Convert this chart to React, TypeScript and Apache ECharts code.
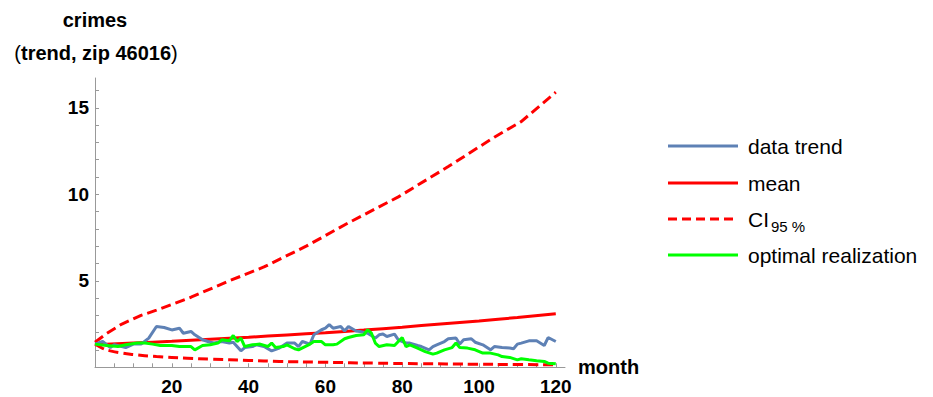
import React, { useEffect, useRef } from "react";
import * as echarts from "echarts";

// [month, value] pairs
const dataTrend: [number, number][] = [
  [0, 1.34], [2, 1.49], [4, 1.14], [5, 1.3], [7, 1.2], [8, 1.14], [10, 1.34], [12, 1.34], [14, 1.69],
  [16, 2.36], [18, 2.3], [20, 2.16], [22, 2.26], [23, 1.97], [25, 2.07], [26, 1.88], [28, 1.59],
  [30, 1.45], [31, 1.4], [33, 1.49], [35, 1.4], [36, 1.45], [38, 0.95], [39, 1.14], [41, 1.2],
  [42, 1.3], [44, 1.2], [46, 0.95], [48, 1.11], [50, 1.4], [52, 1.4], [53, 1.2], [54, 1.49],
  [56, 1.34], [57, 1.88], [59, 2.17], [60, 2.26], [61, 2.46], [62, 2.26], [64, 2.36], [65, 2.1],
  [66, 2.36], [68, 2.1], [69, 2.07], [71, 1.97], [73, 1.69], [74, 1.88], [75, 1.92], [76, 1.78],
  [78, 1.92], [79, 1.59], [81, 1.4], [82, 1.4], [84, 1.26], [85, 1.2], [87, 1.01], [88, 1.2],
  [89, 1.3], [91, 1.49], [92, 1.65], [94, 1.69], [95, 1.34], [96, 1.59], [98, 1.65], [99, 1.45],
  [101, 1.3], [103, 1.01], [104, 1.2], [106, 1.14], [108, 1.11], [109, 1.07], [110, 1.34],
  [111, 1.4], [113, 1.53], [115, 1.53], [117, 1.26], [118, 1.72], [120, 1.49],
];

const meanCurve: [number, number][] = [
  [0, 1.3], [10, 1.4], [20, 1.5], [30, 1.62], [40, 1.74], [50, 1.87], [60, 2.0], [70, 2.15],
  [80, 2.32], [90, 2.5], [100, 2.68], [110, 2.88], [120, 3.1],
];

const ciUpper: [number, number][] = [
  [0, 1.45], [3, 1.95], [7, 2.5], [12, 3.0], [16, 3.3], [25, 4.05], [35, 5.0], [44, 5.8], [55, 7.0],
  [66, 8.35], [79, 9.85], [92, 11.6], [104, 13.3], [111, 14.2], [120, 15.9],
];

const ciLower: [number, number][] = [
  [0, 1.34], [2, 1.1], [4, 0.95], [7, 0.82], [10, 0.74], [16, 0.62], [24, 0.53], [30, 0.47],
  [40, 0.4], [48, 0.34], [60, 0.29], [73, 0.24], [85, 0.21], [98, 0.18], [110, 0.16], [120, 0.15],
];

const optimalRealization: [number, number][] = [
  [0, 1.34], [3, 1.26], [6, 1.2], [8, 1.3], [11, 1.4], [13, 1.4], [15, 1.34], [17, 1.26],
  [20, 1.26], [22, 1.2], [25, 1.2], [26, 1.01], [28, 1.26], [30, 1.3], [32, 1.4], [33, 1.59],
  [35, 1.53], [36, 1.84], [37, 1.49], [38, 1.69], [39, 1.2], [41, 1.3], [43, 1.34], [45, 1.2],
  [46, 1.4], [47, 1.14], [49, 1.2], [50, 1.3], [52, 1.07], [53, 1.01], [56, 1.34], [57, 1.49],
  [59, 1.49], [60, 1.3], [62, 1.3], [63, 1.34], [65, 1.65], [66, 1.72], [68, 1.84], [70, 1.88],
  [71, 2.17], [72, 1.97], [73, 1.4], [74, 1.2], [76, 1.3], [78, 1.26], [80, 1.72], [81, 1.2],
  [82, 1.3], [84, 1.11], [86, 0.91], [88, 0.76], [89, 0.82], [91, 1.01], [93, 1.14], [94, 1.4],
  [95, 1.14], [97, 1.11], [99, 1.01], [101, 0.82], [103, 0.82], [105, 0.72], [106, 0.62],
  [108, 0.57], [110, 0.43], [111, 0.49], [113, 0.43], [115, 0.38], [117, 0.34], [118, 0.24],
  [120, 0.2],
];

const xTickValues = [5, 10, 15, 20, 25, 30, 35, 40, 45, 50, 55, 60, 65, 70, 75, 80, 85, 90, 95, 100, 105, 110, 115, 120];
const xLabelValues = [20, 40, 60, 80, 100, 120];
const yTickValues = [1, 2, 3, 4, 5, 6, 7, 8, 9, 10, 11, 12, 13, 14, 15, 16];
const yLabelValues = [5, 10, 15];

const legendNames = ["data trend", "mean", "CI", "optimal realization"];
const legendSub = ["", "", "95 %", ""];

const BLUE = "#5E81B5";
const RED = "#FF0000";
const GREEN = "#00FF00";
const FONT = "'Liberation Sans', Arial, sans-serif";
const DASH = [10, 5];

export default function App() {
  const ref = useRef<HTMLDivElement>(null);
  useEffect(() => {
    if (!ref.current) return;
    const chart = echarts.init(ref.current, null, { renderer: "svg" });
    const axisLine = { show: true, lineStyle: { color: "#999999", width: 1 } };

    const legendColors = [BLUE, RED, RED, GREEN];
    const legendDash: (number[] | null)[] = [null, null, [9, 5], null];
    const legendRowY = [146, 183, 219, 255];
    const legendGraphics: any[] = [];
    legendNames.forEach((n, i) => {
      legendGraphics.push({
        type: "line",
        shape: { x1: 668, y1: legendRowY[i], x2: 738, y2: legendRowY[i] },
        style: { stroke: legendColors[i], lineWidth: 3, lineDash: legendDash[i] || undefined },
      });
      legendGraphics.push({
        type: "text",
        x: 748,
        y: legendRowY[i],
        style: {
          text: n,
          fontFamily: FONT,
          fontSize: 21,
          fill: "#000",
          textVerticalAlign: "middle",
          verticalAlign: "middle",
        },
      });
      if (legendSub[i]) {
        legendGraphics.push({
          type: "text",
          x: 771,
          y: legendRowY[i] + 7,
          style: {
            text: legendSub[i],
            fontFamily: FONT,
            fontSize: 15,
            fill: "#000",
            textVerticalAlign: "middle",
            verticalAlign: "middle",
          },
        });
      }
    });

    chart.setOption({
      animation: false,
      backgroundColor: "#ffffff",
      textStyle: { fontFamily: FONT },
      grid: { left: 95, top: 78, width: 470, height: 289.3, containLabel: false },
      xAxis: {
        type: "value",
        min: 0,
        max: 122.4,
        name: "month",
        nameLocation: "end",
        nameGap: 13,
        nameTextStyle: { fontFamily: FONT, fontWeight: "bold", fontSize: 20, color: "#000" },
        axisLine,
        splitLine: { show: false },
        axisTick: { show: true, inside: true, length: 4, customValues: xTickValues, lineStyle: { color: "#999999" } },
        axisLabel: {
          customValues: xLabelValues,
          fontFamily: FONT,
          fontWeight: "bold",
          fontSize: 19,
          color: "#000",
          margin: 10,
        },
      },
      yAxis: {
        type: "value",
        min: 0,
        max: 16.72,
        axisLine,
        splitLine: { show: false },
        axisTick: { show: true, inside: true, length: 4, customValues: yTickValues, lineStyle: { color: "#999999" } },
        axisLabel: {
          customValues: yLabelValues,
          fontFamily: FONT,
          fontWeight: "bold",
          fontSize: 19,
          color: "#000",
          margin: 6,
        },
      },
      series: [
        {
          name: "mean",
          type: "line",
          data: meanCurve,
          smooth: true,
          symbol: "none",
          lineStyle: { color: RED, width: 3 },
          itemStyle: { color: RED },
          z: 2,
        },
        {
          name: "CI95 upper",
          type: "line",
          data: ciUpper,
          symbol: "none",
          lineStyle: { color: RED, width: 3, type: DASH },
          itemStyle: { color: RED },
          z: 2,
        },
        {
          name: "CI95 lower",
          type: "line",
          data: ciLower,
          smooth: true,
          symbol: "none",
          lineStyle: { color: RED, width: 3, type: DASH },
          itemStyle: { color: RED },
          z: 2,
        },
        {
          name: "data trend",
          type: "line",
          data: dataTrend,
          symbol: "none",
          lineStyle: { color: BLUE, width: 3 },
          itemStyle: { color: BLUE },
          z: 3,
        },
        {
          name: "optimal realization",
          type: "line",
          data: optimalRealization,
          symbol: "none",
          lineStyle: { color: GREEN, width: 3 },
          itemStyle: { color: GREEN },
          z: 4,
        },
      ],
      graphic: [
        {
          type: "text",
          x: 95,
          y: 20,
          style: {
            text: "crimes",
            fontFamily: FONT,
            fontWeight: "bold",
            fontSize: 20,
            fill: "#000",
            align: "center",
            verticalAlign: "middle",
          },
        },
        {
          type: "text",
          x: 96,
          y: 53,
          style: {
            text: "{p|(}trend, zip 46016{p|)}",
            fontFamily: FONT,
            fontWeight: "bold",
            fontSize: 20,
            fill: "#000",
            align: "center",
            verticalAlign: "middle",
            rich: { p: { fontFamily: FONT, fontWeight: "normal", fontSize: 20, fill: "#000" } },
          },
        },
        ...legendGraphics,
      ],
    });
    return () => chart.dispose();
  }, []);
  return (
    <div
      ref={ref}
      style={{ position: "fixed", left: 0, top: 0, width: 933, height: 397, background: "#fff" }}
    />
  );
}
